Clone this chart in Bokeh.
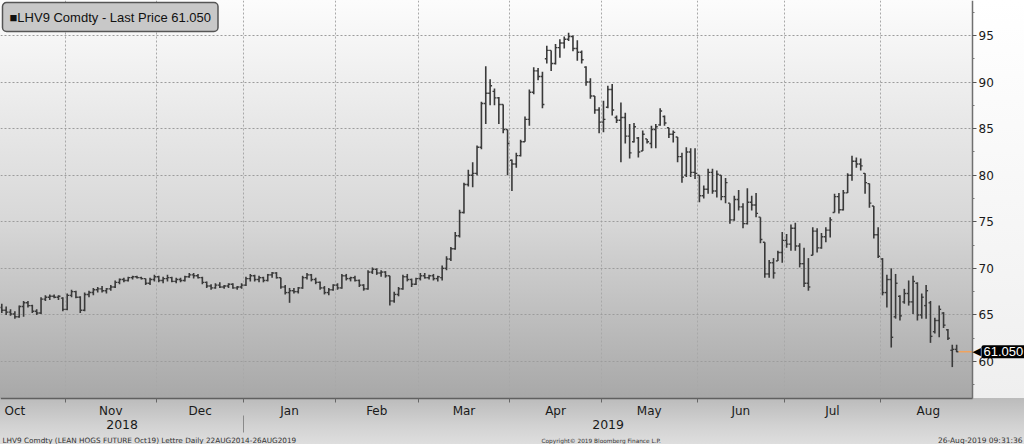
import numpy as np
import pandas as pd
from bokeh.plotting import figure
from bokeh.models import (ColumnDataSource, FixedTicker, LinearAxis, Range1d,
                          Label, Grid)
from bokeh.embed import file_html
from bokeh.resources import INLINE

# ---------------- calendar / text ----------------
HOLIDAYS = ["2018-11-22", "2018-12-25", "2019-01-01", "2019-01-21",
            "2019-02-18", "2019-04-19", "2019-05-27", "2019-07-04"]
FIRST_DAY = "2018-10-11"
LAST_DAY = "2019-08-26"
month_names = ["Oct", "Nov", "Dec", "Jan", "Feb", "Mar", "Apr", "May", "Jun", "Jul", "Aug"]
year_names = ["2018", "2019"]
y_ticks = [60, 65, 70, 75, 80, 85, 90, 95]
y_minor = [57.5, 62.5, 67.5, 72.5, 77.5, 82.5, 87.5, 92.5, 97.5]
legend_text = "\u25a0LHV9 Comdty - Last Price 61.050"
last_price_text = "61.050"
footer_left = "LHV9 Comdty (LEAN HOGS FUTURE  Oct19) Lettre  Daily 22AUG2014-26AUG2019"
footer_mid = "Copyright\u00a9 2019 Bloomberg Finance L.P."
footer_right = "26-Aug-2019 09:31:36"

# ---------------- daily OHLC ----------------
open_ = [
    65.8, 65.5, 65.3, 65.1, 64.8, 65.9, 66.3, 66.0, 65.4, 65.2, 66.7, 66.9, 67.0, 66.9, 66.8,  # Oct
    65.6, 67.1, 67.5, 66.9, 65.5, 67.2, 67.4, 67.7, 67.8, 67.6, 67.8, 68.0, 68.5, 68.8, 68.7, 69.0, 69.1, 69.0, 68.9, 68.4, 68.8,  # Nov
    69.1, 68.7, 68.9, 69.0, 68.6, 68.8, 68.7, 69.1, 69.3, 69.2, 69.0, 68.5, 68.1, 67.9, 68.2, 68.0, 68.1, 68.3, 67.9, 68.0,  # Dec
    68.2, 68.9, 69.2, 68.8, 69.0, 68.7, 69.3, 69.5, 69.0, 68.0, 67.4, 67.6, 67.5, 67.9, 69.0, 69.3, 68.8, 68.5, 67.9, 67.4, 67.7,  # Jan
    68.2, 67.9, 69.2, 68.9, 69.0, 68.7, 68.2, 67.8, 69.6, 69.9, 69.5, 69.6, 69.2, 66.5, 67.2, 67.8, 69.1, 68.8, 68.3,  # Feb
    68.9, 69.2, 69.0, 69.2, 68.9, 69.0, 70.0, 71.0, 72.1, 73.5, 76.0, 79.0, 80.0, 80.2, 83.0, 87.7, 88.8, 89.0, 88.3, 87.6, 84.9,  # Mar
    81.6, 81.2, 82.1, 83.6, 86.0, 88.9, 91.2, 90.6, 92.5, 93.4, 92.0, 93.7, 94.2, 94.6, 94.9, 93.6, 93.2, 91.6, 90.0, 88.5, 87.0,  # Apr
    85.7, 87.3, 89.2, 86.2, 85.9, 86.2, 84.2, 83.6, 84.0, 82.6, 83.9, 83.4, 84.9, 85.4, 86.3, 85.1, 84.4, 84.1, 82.0, 80.0, 82.5, 80.3,  # May
    80.0, 77.8, 78.5, 80.3, 78.3, 80.0, 77.7, 77.0, 75.2, 77.4, 76.6, 74.8, 77.1, 76.8, 75.5, 72.8, 69.4, 70.6, 70.8, 71.7,  # Jun
    73.0, 72.6, 74.3, 72.4, 70.5, 68.4, 71.4, 74.0, 72.2, 73.4, 74.1, 76.0, 77.7, 76.3, 78.1, 80.0, 81.5, 81.2, 80.2, 79.1, 76.7, 73.6,  # Jul
    71.0, 67.4, 68.8, 64.8, 67.0, 66.4, 67.3, 66.4, 68.4, 65.0, 66.0, 66.3, 63.2, 64.4, 65.2, 63.4, 61.2, 61.3,  # Aug
]
high = [
    66.2, 65.9, 65.6, 65.4, 66.0, 66.5, 66.5, 66.1, 65.6, 66.9, 67.1, 67.2, 67.2, 67.1, 66.9,
    67.3, 67.7, 67.6, 67.0, 67.4, 67.6, 67.9, 68.0, 68.1, 67.9, 68.2, 68.7, 68.9, 69.0, 69.1, 69.2, 69.2, 69.1, 68.9, 69.0, 69.3,
    69.2, 69.1, 69.3, 69.1, 69.0, 69.0, 69.2, 69.5, 69.5, 69.4, 69.1, 68.6, 68.3, 68.4, 68.5, 68.2, 68.4, 68.4, 68.1, 68.4,
    69.1, 69.4, 69.3, 69.2, 69.1, 69.4, 69.6, 69.6, 69.0, 68.2, 67.9, 67.9, 68.0, 69.2, 69.5, 69.4, 69.0, 68.6, 68.1, 67.9, 68.3,
    68.4, 69.4, 69.4, 69.1, 69.2, 68.8, 68.3, 69.8, 70.1, 70.0, 69.8, 69.7, 69.2, 67.5, 68.0, 69.3, 69.4, 68.9, 69.0,
    69.5, 69.5, 69.3, 69.4, 69.2, 70.3, 71.3, 72.3, 73.9, 76.3, 79.2, 80.6, 81.4, 83.2, 87.9, 91.7, 90.3, 89.3, 88.4, 87.6, 84.9,
    81.7, 82.4, 83.8, 86.3, 89.2, 91.6, 91.5, 91.1, 93.9, 93.4, 94.1, 94.6, 94.9, 95.3, 95.0, 94.5, 93.4, 91.7, 90.4, 88.5, 87.3,
    88.0, 89.6, 89.8, 86.4, 87.8, 86.7, 85.5, 85.6, 84.1, 84.8, 83.9, 85.3, 85.5, 87.2, 86.4, 85.1, 84.8, 84.1, 82.4, 83.0, 82.9, 82.9,
    80.0, 78.9, 80.7, 80.7, 80.5, 80.0, 79.7, 77.0, 77.8, 78.4, 77.0, 78.6, 77.8, 78.1, 75.5, 72.8, 70.9, 71.1, 71.9, 73.9,
    73.7, 74.7, 74.9, 72.7, 72.2, 71.1, 74.4, 74.3, 73.8, 74.4, 75.5, 78.0, 78.1, 78.4, 80.2, 82.1, 81.9, 81.8, 80.2, 79.1, 76.7, 74.4,
    71.1, 69.3, 70.0, 69.4, 67.1, 67.8, 68.7, 69.2, 68.5, 67.3, 68.2, 66.5, 64.7, 66.0, 65.3, 63.5, 61.8, 61.8,
]
low = [
    65.2, 65.0, 64.9, 64.6, 64.7, 64.8, 65.8, 65.2, 65.0, 65.1, 66.5, 66.6, 66.8, 66.6, 65.4,
    65.5, 66.9, 66.8, 65.2, 65.4, 66.9, 67.1, 67.4, 67.4, 67.3, 67.6, 67.9, 68.3, 68.5, 68.6, 68.8, 68.9, 68.8, 68.2, 68.2, 68.6,
    68.5, 68.4, 68.6, 68.5, 68.4, 68.5, 68.6, 69.0, 68.9, 68.9, 68.3, 67.9, 67.7, 67.8, 67.9, 67.8, 67.9, 67.8, 67.7, 67.8,
    68.1, 68.6, 68.6, 68.5, 68.5, 68.6, 69.0, 68.9, 67.8, 67.2, 66.3, 67.3, 67.3, 67.8, 68.8, 68.6, 68.3, 67.7, 67.2, 67.1, 67.6,
    67.7, 67.8, 68.7, 68.6, 68.6, 68.0, 67.6, 67.7, 69.4, 69.3, 69.1, 69.0, 66.0, 66.3, 67.0, 67.7, 68.6, 68.0, 68.2,
    68.7, 68.9, 68.8, 68.7, 68.6, 68.7, 69.8, 70.8, 72.0, 73.3, 75.9, 78.8, 78.7, 80.0, 82.8, 85.5, 87.5, 87.5, 85.5, 84.5, 80.0,
    78.3, 80.8, 82.0, 83.6, 85.3, 88.7, 90.2, 87.2, 92.0, 91.2, 91.9, 92.6, 93.6, 94.4, 93.3, 92.3, 92.0, 89.6, 88.2, 86.6, 84.5,
    84.6, 87.2, 86.4, 85.6, 81.4, 83.4, 81.8, 83.5, 81.9, 82.6, 83.4, 82.9, 82.9, 85.3, 85.3, 84.0, 83.5, 81.4, 79.2, 79.8, 79.8, 79.6,
    77.1, 77.5, 78.0, 78.0, 77.6, 77.3, 77.0, 74.8, 75.1, 76.2, 74.3, 74.7, 76.2, 75.5, 72.7, 69.0, 69.0, 68.9, 70.8, 70.6,
    72.2, 71.9, 71.9, 70.1, 68.0, 67.6, 71.4, 71.7, 72.1, 72.8, 73.3, 76.0, 75.9, 76.2, 78.1, 79.4, 80.8, 80.5, 78.0, 76.5, 73.2, 71.1,
    67.1, 65.8, 61.5, 64.6, 64.4, 66.2, 66.0, 65.1, 64.4, 64.6, 64.6, 62.0, 63.0, 62.6, 63.6, 62.3, 59.4, 61.0,
]
close = [
    65.5, 65.3, 65.1, 64.8, 65.9, 66.3, 66.0, 65.4, 65.2, 66.7, 66.9, 67.0, 66.9, 67.0, 65.6,
    67.1, 67.5, 66.9, 65.5, 67.2, 67.4, 67.7, 67.8, 67.6, 67.8, 68.0, 68.5, 68.8, 68.7, 69.0, 69.1, 69.0, 68.9, 68.4, 68.8, 69.1,
    68.7, 68.9, 69.0, 68.6, 68.8, 68.7, 69.1, 69.3, 69.2, 69.0, 68.5, 68.1, 67.9, 68.2, 68.0, 68.1, 68.3, 67.9, 68.0, 68.2,
    68.9, 69.2, 68.8, 69.0, 68.7, 69.3, 69.5, 69.0, 68.0, 67.4, 67.6, 67.5, 67.9, 69.0, 69.3, 68.8, 68.5, 67.9, 67.4, 67.7, 68.2,
    67.9, 69.2, 68.9, 69.0, 68.7, 68.2, 67.8, 69.6, 69.9, 69.5, 69.6, 69.2, 66.5, 67.2, 67.8, 69.1, 68.8, 68.3, 68.9,
    69.2, 69.0, 69.2, 68.9, 69.1, 70.0, 71.0, 72.1, 73.5, 76.0, 79.0, 80.0, 80.2, 83.0, 87.7, 88.8, 89.6, 88.3, 87.6, 84.9, 83.4,
    81.2, 82.1, 83.6, 86.0, 88.9, 91.2, 90.6, 87.6, 93.4, 92.0, 93.7, 94.2, 94.6, 94.9, 93.6, 93.2, 92.4, 90.0, 88.5, 87.0, 85.7,
    86.0, 89.2, 87.0, 85.9, 86.2, 84.2, 82.4, 85.2, 82.5, 84.4, 83.6, 84.9, 85.2, 86.9, 85.6, 84.4, 84.6, 82.0, 79.8, 82.5, 80.3, 80.2,
    77.8, 78.5, 80.3, 78.3, 80.1, 77.7, 79.2, 75.2, 77.4, 76.6, 74.8, 77.1, 76.8, 75.9, 73.1, 69.4, 70.6, 69.5, 71.7, 73.0,
    72.6, 74.3, 72.4, 70.5, 68.4, 68.0, 74.0, 72.2, 73.4, 74.1, 75.2, 77.7, 76.3, 78.1, 80.0, 81.5, 81.2, 81.0, 79.2, 77.0, 73.6, 71.3,
    67.4, 68.8, 62.6, 68.4, 64.9, 67.3, 66.4, 68.6, 65.0, 66.9, 67.6, 62.7, 64.4, 65.6, 63.9, 62.5, 61.3, 61.05,
]

# ---------------- positions on a trading-day axis ----------------
cal = pd.bdate_range("2018-10-01", "2019-08-30", freq="C", holidays=HOLIDAYS)
start = int(np.where(cal == pd.Timestamp(FIRST_DAY))[0][0])
pos = np.arange(len(cal)) - start
dates = cal[(cal >= pd.Timestamp(FIRST_DAY)) & (cal <= pd.Timestamp(LAST_DAY))]
n = min(len(dates), len(open_), len(high), len(low), len(close))
x = np.arange(n, dtype=float)

months = cal.to_period("M")
month_centers, month_bounds = [], []
for m in months.unique():
    idx = pos[months == m]
    month_centers.append(float((idx.min() + idx.max()) / 2.0))
    month_bounds.append(float(idx.min() - 0.5))
month_bounds = month_bounds[1:]
jan_bound = float(pos[months == pd.Period("2019-01", "M")].min() - 0.5)

# ---------------- geometry (pixels) ----------------
W, H = 1024, 444          # whole figure = frame
PW, PH = 972, 398         # price panel (left/top part)
PX_PER_DAY = 4.36
X0 = -1.3 / PX_PER_DAY
XA = X0 + PW / PX_PER_DAY          # x at the price axis
X1 = X0 + W / PX_PER_DAY
YA, YT = 56.027, 98.758            # y at the date axis and at the top edge
ky = (YT - YA) / PH
Y0 = YT - H * ky
Y_SEP = YA - 17 * ky
Y_YEAR = YA - 21 * ky
year_centers = [(X0 + jan_bound) / 2.0, (jan_bound + XA) / 2.0]

bg = (f"linear-gradient(to bottom, #fcfcfc 0%, #d8d8d8 55%, #a8a8a8 100%) 0 0 / {PW}px {PH}px no-repeat, "
      f"linear-gradient(to bottom, #bbbbbb 0%, #d2d2d2 60%, #dedede 100%) 0 {PH}px / 100% {H - PH}px no-repeat, "
      f"linear-gradient(to bottom, #ffffff 0%, #efefef 100%) {PW}px 0 / {W - PW}px {PH}px no-repeat, #f2f2f2")

p = figure(frame_width=W, frame_height=H,
           x_range=Range1d(X0, X1), y_range=Range1d(Y0, YT),
           x_axis_location=None, y_axis_location=None,
           output_backend="svg", toolbar_location=None,
           min_border_left=0, min_border_top=0, min_border_right=0, min_border_bottom=0,
           background_fill_color=None, border_fill_color=None, outline_line_color=None,
           styles={"background": bg})
p.center = []   # drop default grids

FONT = "DejaVu Sans"

# price axis (right edge of the price panel)
ya = LinearAxis(fixed_location=XA, bounds=(YA, YT),
                ticker=FixedTicker(ticks=y_ticks, minor_ticks=y_minor),
                axis_line_color="#707070", axis_line_width=1.5,
                major_tick_in=0, major_tick_out=4, minor_tick_in=0, minor_tick_out=2,
                major_tick_line_color="#555555", minor_tick_line_color="#777777",
                major_label_standoff=2, major_label_text_font=FONT,
                major_label_text_font_size="12px", major_label_text_color="#1a1a1a")
p.add_layout(ya, "right")

# month axis: names at month centres, tick marks at month boundaries
xa = LinearAxis(fixed_location=YA, bounds=(X0, XA),
                ticker=FixedTicker(ticks=month_centers, minor_ticks=month_bounds),
                major_label_overrides={c: nm for c, nm in zip(month_centers, month_names)},
                axis_line_color="#606060", axis_line_width=1.5,
                major_tick_line_color=None, major_tick_in=0, major_tick_out=0,
                minor_tick_in=0, minor_tick_out=4, minor_tick_line_color="#666666",
                major_label_standoff=1, major_label_text_font=FONT,
                major_label_text_font_size="12px", major_label_text_color="#1a1a1a")
p.add_layout(xa, "below")

# year separator (tick only) and year names
sep = LinearAxis(fixed_location=Y_SEP, bounds=(X0, XA),
                 ticker=FixedTicker(ticks=[jan_bound], minor_ticks=[]),
                 major_label_overrides={jan_bound: ""},
                 axis_line_color=None, major_tick_in=0, major_tick_out=17,
                 major_tick_line_color="#8a8a8a", minor_tick_line_color=None,
                 major_label_text_font_size="1px")
p.add_layout(sep, "below")

yr = LinearAxis(fixed_location=Y_YEAR, bounds=(X0, XA),
                ticker=FixedTicker(ticks=year_centers, minor_ticks=[]),
                major_label_overrides={c: nm for c, nm in zip(year_centers, year_names)},
                axis_line_color=None, major_tick_line_color=None, minor_tick_line_color=None,
                major_tick_in=0, major_tick_out=0, minor_tick_in=0, minor_tick_out=0,
                major_label_standoff=0, major_label_text_font=FONT,
                major_label_text_font_size="12.5px", major_label_text_color="#1a1a1a")
p.add_layout(yr, "below")

# grids, limited to the price panel
gx = Grid(dimension=0, ticker=FixedTicker(ticks=month_bounds),
          grid_line_color="#a8a8a8", grid_line_dash="2 2", grid_line_width=1)
gy = Grid(dimension=1, ticker=FixedTicker(ticks=y_ticks),
          grid_line_color="#9c9c9c", grid_line_dash="2 2", grid_line_width=1)
if "cross_bounds" in Grid.properties():
    gx.cross_bounds = (YA, YT)
    gy.cross_bounds = (X0, XA)
p.add_layout(gx)
p.add_layout(gy)

# OHLC bars
src = ColumnDataSource(dict(x=x, xl=x - 0.45, xr=x + 0.45,
                            o=open_[:n], h=high[:n], l=low[:n], c=close[:n]))
BAR = "#3a3a3a"
p.segment(x0="x", y0="l", x1="x", y1="h", source=src, line_color=BAR, line_width=1.6)
p.segment(x0="xl", y0="o", x1="x", y1="o", source=src, line_color=BAR, line_width=1.4)
p.segment(x0="x", y0="c", x1="xr", y1="c", source=src, line_color=BAR, line_width=1.4)

# last-price line
p.segment(x0=[x[-1] + 0.45], y0=[close[n - 1]], x1=[XA], y1=[close[n - 1]],
          line_color="#f0a35e", line_width=1.5)

lprops = Label.properties()

def boxed(**kw):
    for k in ("padding", "border_radius"):
        if k not in lprops:
            kw.pop(k, None)
    return Label(**kw)

# legend-like box
p.add_layout(boxed(x=2, y=H - 2, x_units="screen", y_units="screen", text=legend_text,
                   text_font="Liberation Sans", text_font_size="13px", text_color="#111111",
                   text_baseline="top", text_align="left",
                   background_fill_color="#c8c8c8", background_fill_alpha=1.0,
                   border_line_color="#555555", border_line_width=1.5,
                   padding=7, border_radius=4))

# last price tag on the axis
p.add_layout(Label(x=PW, y=close[n - 1], x_units="screen", y_units="data",
                   text="\u25c0", text_color="black", text_font=FONT,
                   text_font_size="11px", text_baseline="middle", text_align="left"))
p.add_layout(boxed(x=PW + 9, y=close[n - 1], x_units="screen", y_units="data",
                   text=last_price_text, text_color="white", text_font="Liberation Sans",
                   text_font_size="13px", text_baseline="middle", text_align="left",
                   background_fill_color="black", background_fill_alpha=1.0,
                   padding=2, border_radius=2))

# footer texts
p.add_layout(Label(x=2, y=4, x_units="screen", y_units="screen", text=footer_left,
                   text_font=FONT, text_font_size="7.3px", text_color="#333333",
                   text_baseline="middle", text_align="left"))
p.add_layout(Label(x=541, y=4, x_units="screen", y_units="screen", text=footer_mid,
                   text_font=FONT, text_font_size="5.8px", text_color="#333333",
                   text_baseline="middle", text_align="left"))
p.add_layout(Label(x=W - 2, y=4, x_units="screen", y_units="screen", text=footer_right,
                   text_font=FONT, text_font_size="7.5px", text_color="#333333",
                   text_baseline="middle", text_align="right"))

open("out.html", "w").write(file_html(p, INLINE))
